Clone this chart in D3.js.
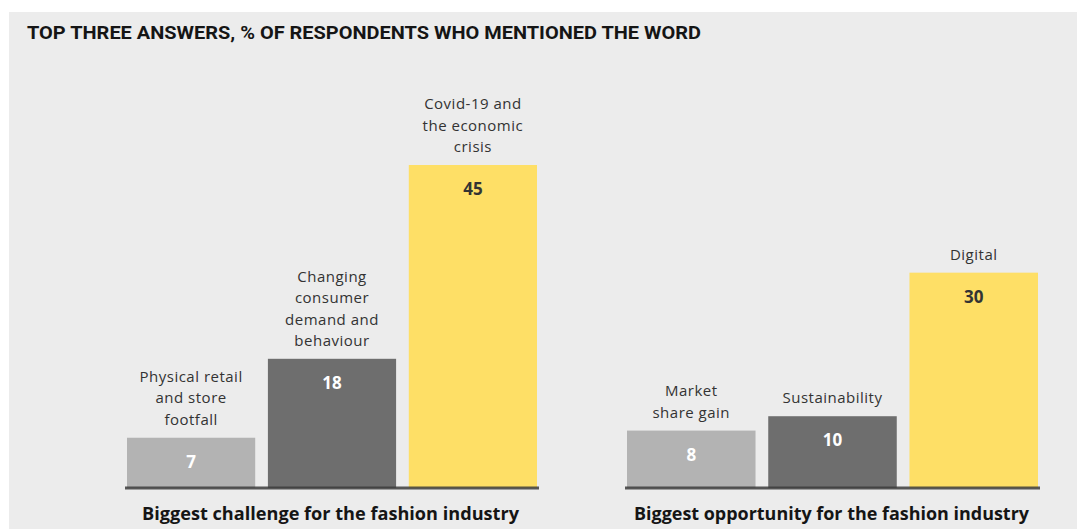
<!DOCTYPE html>
<html>
<head>
<meta charset="utf-8">
<script src="https://cdn.jsdelivr.net/npm/d3@7"></script>
<style>
  html, body { margin: 0; padding: 0; background: #ffffff; }
  svg { display: block; }
</style>
</head>
<body>
<svg id="chart" width="1077" height="529"></svg>
<script>
// Survey answers: share of respondents (%) mentioning each word
const challengeCategories = ["Physical retail|and store|footfall", "Changing|consumer|demand and|behaviour", "Covid-19 and|the economic|crisis"];
const challengeValues = [7, 18, 45];
const opportunityCategories = ["Market|share gain", "Sustainability", "Digital"];
const opportunityValues = [8, 10, 30];
const panelTitles = ["Biggest challenge for the fashion industry", "Biggest opportunity for the fashion industry"];
const chartTitle = "TOP THREE ANSWERS, % OF RESPONDENTS WHO MENTIONED THE WORD";

const barColors = ["#b3b3b3", "#6e6e6e", "#fedf66"];
const valueColors = ["#ffffff", "#ffffff", "#333333"];
const labelFont = "'Open Sans', 'Noto Sans', sans-serif";

const svg = d3.select("#chart");

// panel background
svg.append("rect")
  .attr("x", 9).attr("y", 12)
  .attr("width", 1068).attr("height", 517)
  .attr("fill", "#ececec");

svg.append("text")
  .attr("x", 27).attr("y", 38.5)
  .attr("font-family", "Roboto, 'Liberation Sans', sans-serif")
  .attr("font-weight", 700)
  .attr("font-size", 17.5)
  .attr("fill", "#151515")
  .attr("textLength", 674)
  .attr("lengthAdjust", "spacingAndGlyphs")
  .text(chartTitle);

const y = d3.scaleLinear().domain([0, 45]).range([488, 165]);

function drawPanel(categories, values, x0, x1, title, titleX, titleW) {
  const x = d3.scaleBand().domain(categories).range([x0, x1])
    .paddingInner(0.09).paddingOuter(0);
  const g = svg.append("g");

  g.selectAll("rect.bar").data(values).join("rect")
    .attr("class", "bar")
    .attr("x", (d, i) => x(categories[i]))
    .attr("y", d => y(d))
    .attr("width", x.bandwidth())
    .attr("height", d => y(0) - y(d))
    .attr("fill", (d, i) => barColors[i]);

  // baseline axis
  const axis = d3.axisBottom(x).tickSize(0).tickFormat("");
  const ax = g.append("g").attr("transform", `translate(0,${y(0)})`).call(axis);
  ax.select(".domain")
    .attr("stroke", "#3c3c3c")
    .attr("stroke-opacity", 0.85)
    .attr("stroke-width", 3)
    .attr("d", `M${x0 - 2},0H${x1 + 2}`);

  // value labels inside bars
  g.selectAll("text.val").data(values).join("text")
    .attr("class", "val")
    .attr("x", (d, i) => x(categories[i]) + x.bandwidth() / 2)
    .attr("y", d => y(d) + 30)
    .attr("text-anchor", "middle")
    .attr("font-family", labelFont)
    .attr("font-weight", 700)
    .attr("font-size", 17)
    .attr("fill", (d, i) => valueColors[i])
    .text(d => d);

  // category labels above bars
  categories.forEach((c, i) => {
    const lines = c.split("|");
    const cx = x(c) + x.bandwidth() / 2;
    const base = y(values[i]) - 13;
    const t = g.append("text")
      .attr("text-anchor", "middle")
      .attr("font-family", labelFont)
      .attr("font-size", 15)
      .attr("letter-spacing", 0.5)
      .attr("fill", "#333333");
    lines.forEach((ln, j) => {
      t.append("tspan")
        .attr("x", cx)
        .attr("y", base - (lines.length - 1 - j) * 21.3)
        .text(ln);
    });
  });

  svg.append("text")
    .attr("x", titleX)
    .attr("y", 520)
    .attr("font-family", labelFont)
    .attr("font-weight", 700)
    .attr("font-size", 17)
    .attr("fill", "#151515")
    .attr("textLength", titleW)
    .attr("lengthAdjust", "spacingAndGlyphs")
    .text(title);
}

drawPanel(challengeCategories, challengeValues, 127, 537, panelTitles[0], 142, 377);
drawPanel(opportunityCategories, opportunityValues, 627, 1038, panelTitles[1], 634, 395);
</script>
</body>
</html>
